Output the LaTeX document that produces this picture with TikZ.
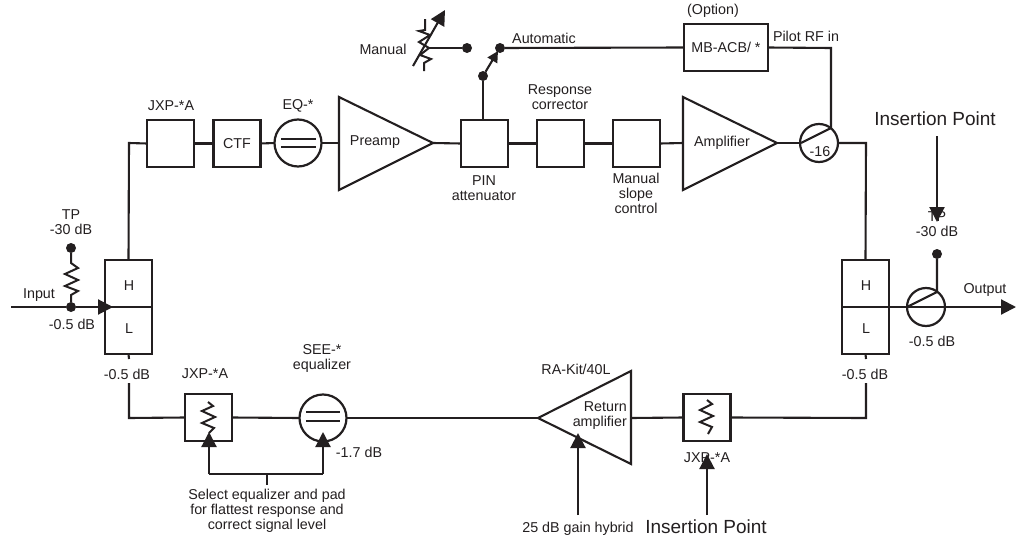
\documentclass[tikz,border=0pt]{standalone}
\usepackage{fontspec}
\setmainfont{Liberation Sans}
\usetikzlibrary{arrows.meta,calc}
\definecolor{ink}{HTML}{231F20}
\tikzset{
  wire/.style={draw=ink,line width=2.1pt},
  zigzag/.style={draw=ink,line width=2pt,line join=miter},
  tipped/.style={wire,-{Triangle[length=15pt,width=15pt]}},
  blockbox/.style={rectangle,draw=ink,line width=2.2pt,minimum width=47pt,minimum height=47pt,inner sep=0pt,outer sep=0pt},
  optbox/.style={blockbox,minimum width=84pt},
  eqcircle/.style={circle,draw=ink,line width=2.2pt,minimum size=47pt,inner sep=0pt,outer sep=0pt},
  coupler/.style={circle,draw=ink,line width=2.2pt,minimum size=38pt,inner sep=0pt,outer sep=0pt},
  blackdot/.style={circle,fill=ink,minimum size=10pt,inner sep=0pt,outer sep=0pt},
  lbl/.style={text=ink,inner sep=0pt,font=\fontsize{14.3}{15}\selectfont,align=center},
  biglbl/.style={text=ink,inner sep=0pt,font=\fontsize{19}{21}\selectfont},
}
\begin{document}
\begin{tikzpicture}[x=1pt,y=-1pt]
\useasboundingbox[fill=white] (0,0) rectangle (1021,541);
% top chain
\node[blockbox] (jxpt) at (170.5,143.5) {};
\node[blockbox,lbl] (ctf) at (237,143.5) {CTF};
\node[eqcircle] (eqt) at (298,143) {};
\coordinate (pa1) at (339,97); \coordinate (pa2) at (339,190); \coordinate (pa3) at (433,143);
\coordinate (pain) at (339,143);
\draw[wire] (pa1) -- (pa2) -- (pa3) -- cycle;
\node[lbl] (preamp) at (375,142) {Preamp};
\node[blockbox] (pin) at (484.5,143.5) {};
\node[blockbox] (resp) at (560.5,143.5) {};
\node[blockbox] (slope) at (636.5,143.5) {};
\coordinate (am1) at (683,97); \coordinate (am2) at (683,190); \coordinate (am3) at (777,143);
\coordinate (amin) at (683,143);
\draw[wire] (am1) -- (am2) -- (am3) -- cycle;
\node[lbl] (ampl) at (722,143) {Amplifier};
\node[coupler] (cpl) at (819,143) {};
% left and right splitters
\node[blockbox] (lh) at (128.5,283.5) {};
\node[blockbox] (ll) at (128.5,330.5) {};
\node[blockbox] (rh) at (865.5,283.5) {};
\node[blockbox] (rl) at (865.5,330.5) {};
\node[lbl] (lht) at (129,286) {H};
\node[lbl] (llt) at (129,329) {L};
\node[lbl] (rht) at (866,286) {H};
\node[lbl] (rlt) at (866,329) {L};
\node[coupler] (cout) at (926,307) {};
% bottom chain
\node[blockbox] (jxpl) at (208.5,417.5) {};
\node[eqcircle] (see) at (323,418) {};
\coordinate (ra1) at (631,371); \coordinate (ra2) at (631,464); \coordinate (ra3) at (538,418);
\coordinate (raout) at (631,418);
\draw[wire] (ra1) -- (ra2) -- (ra3) -- cycle;
\node[blockbox] (jxpr) at (707,417.5) {};
% top option
\node[optbox,lbl] (mb) at (726,47.5) {MB-ACB/ *};
% wires top
\coordinate (tl) at (129,143);
\draw[wire] (lh.north) -- (tl) -- (jxpt.west);
\draw[wire] (jxpt.east) -- (ctf.west);
\draw[wire] (ctf.east) -- (eqt.west);
\draw[wire] (eqt.east) -- (pain);
\draw[wire] (pa3) -- (pin.west);
\draw[wire] (pin.east) -- (resp.west);
\draw[wire] (resp.east) -- (slope.west);
\draw[wire] (slope.east) -- (amin);
\draw[wire] (am3) -- (cpl.west);
\coordinate (tr) at (866,143);
\draw[wire] (cpl.east) -- (tr) -- (rh.north);
% eq bars
\coordinate (e1) at (281,139); \coordinate (e2) at (316,139); \coordinate (e3) at (281,147); \coordinate (e4) at (316,147);
\draw[wire] (e1) -- (e2); \draw[wire] (e3) -- (e4);
\coordinate (s1) at (306,412); \coordinate (s2) at (340,412); \coordinate (s3) at (306,421); \coordinate (s4) at (340,421);
\draw[wire] (s1) -- (s2); \draw[wire] (s3) -- (s4);
% coupler slashes and pilot
\coordinate (cs1) at (801,143); \coordinate (cs2) at (831,128); \coordinate (pil) at (831,48);
\draw[wire] (cs1) -- (cs2) -- (pil) -- (mb.east);
\coordinate (os1) at (907,307); \coordinate (os2) at (937,292);
\node[blackdot] (tpr) at (937,254) {};
\draw[wire] (os1) -- (os2) -- (tpr);
% switch
\node[blackdot] (swa) at (500,48) {};
\node[blackdot] (swm) at (467,48) {};
\node[blackdot] (swp) at (483,76) {};
\draw[wire] (swa) -- (mb.west);
\draw[wire] (swp) -- (swp |- pin.north);
\draw[wire,-{Triangle[length=11pt,width=11pt]}] (swp) -- (498,51);
% manual attenuator
\coordinate (mr) at (428,48);
\draw[wire] (mr) -- (swm);
\draw[zigzag] (425,19) -- (425,30) -- (419,31) -- (430,35) -- (419,42) -- (429,48) -- (420,55) -- (431,59) -- (424,63) -- (424,71);
\coordinate (ma1) at (413,66); \coordinate (ma2) at (445,10);
\draw[tipped] (ma1) -- (ma2);
% input side
\coordinate (inp) at (11,307);
\coordinate (lm) at (113,307);
\node[blackdot] (jn) at (71,307) {};
\node[blackdot] (tpl) at (71,248) {};
\draw[wire] (inp) -- (jn);
\draw[tipped] (jn) -- (lm);
\draw[wire] (lm) -- (152,307);
\draw[zigzag] (tpl) -- (71,263) -- (78,268) -- (65,274) -- (78,280) -- (65,286) -- (78,291) -- (71,295) -- (jn);
% output
\coordinate (outp) at (1016,307);
\draw[wire] (842,307) -- (cout.west);
\draw[tipped] (cout.west) -- (outp);
% bottom wires
\coordinate (bl1) at (129,359); \coordinate (bl2) at (129,383); \coordinate (bl3) at (129,418);
\draw[wire] (ll.south) -- (bl1);
\draw[wire] (bl2) -- (bl3) -- (jxpl.west);
\draw[wire] (jxpl.east) -- (see.west);
\draw[wire] (see.east) -- (ra3);
\draw[wire] (raout) -- (jxpr.west);
\coordinate (br1) at (866,359); \coordinate (br2) at (866,383); \coordinate (br3) at (866,418);
\draw[wire] (rl.south) -- (br1);
\draw[wire] (jxpr.east) -- (br3) -- (br2);
% lower zigzags
\draw[zigzag] (208,402) -- (213,406) -- (202,411) -- (215,417) -- (202,423) -- (214,428) -- (209,433);
\draw[zigzag] (707,400) -- (712,404) -- (700,410) -- (713,416) -- (700,422) -- (712,427) -- (708,434);
% equalizer select
\coordinate (q1) at (209,474); \coordinate (q2) at (323,474); \coordinate (q3) at (267,474); \coordinate (q4) at (267,485);
\coordinate (qa) at (209,432); \coordinate (qb) at (323,432);
\draw[tipped] (q1) -- (qa);
\draw[tipped] (q2) -- (qb);
\draw[wire] (q1) -- (q2);
\draw[wire] (q3) -- (q4);
% labels
\node[lbl] (opt) at (713,11) {(Option)};
\node[lbl] (pilot) at (806,36) {Pilot RF in};
\node[lbl] (auto) at (544,38) {Automatic};
\node[lbl] (man) at (383,49) {Manual};
\node[lbl] (rc) at (560,97.5) {Response\\corrector};
\node[lbl] (pa) at (484,188) {PIN\\attenuator};
\node[lbl] (msc) at (636,193) {Manual\\slope\\control};
\node[lbl] (j1) at (171,106) {JXP-*A};
\node[lbl] (eqn) at (298,106) {EQ-*};
\node[lbl] (m16) at (820,152) {-16};
\node[lbl] (tp1) at (71,222.5) {TP\\-30 dB};
\node[lbl] (inl) at (39,295) {Input};
\node[lbl] (d1) at (72,324) {-0.5 dB};
\node[lbl] (d2) at (127,374) {-0.5 dB};
\node[lbl] (j2) at (205,374) {JXP-*A};
\node[lbl] (seel) at (322,358.5) {SEE-*\\equalizer};
\node[lbl] (sel) at (267,511) {Select equalizer and pad\\for flattest response and\\correct signal level};
\node[lbl] (d17) at (359,452) {-1.7 dB};
\node[lbl] (rak) at (576,369) {RA-Kit/40L};
\node[lbl,anchor=east,align=right] (ret) at (627,416) {Return\\amplifier};
\node[lbl] (j3) at (707,458) {JXP-*A};
\node[lbl] (gain) at (578,529) {25 dB gain hybrid};
\node[lbl] (tp2) at (937,224) {TP\\-30 dB};
\node[lbl] (outl) at (985,290) {Output};
\node[lbl] (d3) at (932,341) {-0.5 dB};
\node[lbl] (d4) at (865,374) {-0.5 dB};
\node[biglbl] (ins1) at (935,119) {Insertion Point};
\node[biglbl] (ins2) at (706,527) {Insertion Point};
% arrows over text
\coordinate (ga) at (578,515); \coordinate (gb) at (578,433);
\draw[tipped] (ga) -- (gb);
\coordinate (ia) at (707,515); \coordinate (ib) at (707,454);
\draw[tipped] (ia) -- (ib);
\coordinate (ja) at (937,136); \coordinate (jb) at (937,222);
\draw[tipped] (ja) -- (jb);
\end{tikzpicture}
\end{document}
